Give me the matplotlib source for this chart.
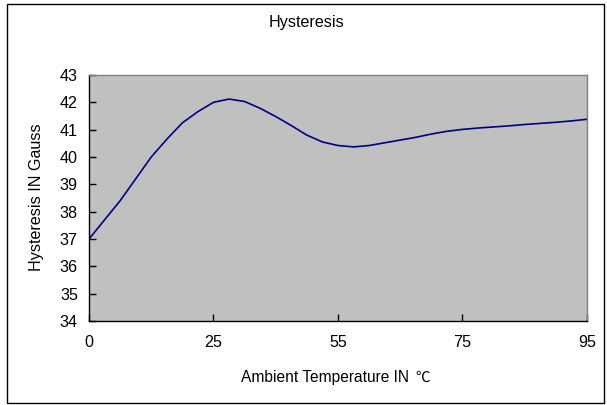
import matplotlib
matplotlib.use("Agg")
import matplotlib.pyplot as plt
import numpy as np
from matplotlib.patches import Rectangle

# Data (category axis; labels shown every 8th sample)
tick_labels = ["0", "25", "55", "75", "95"]
hysteresis = [37.0, 37.7, 38.4, 39.2, 40.0, 40.65, 41.25, 41.66, 42.0,
              42.12, 42.03, 41.78, 41.48, 41.15, 40.8, 40.55, 40.42,
              40.37, 40.42, 40.52, 40.62, 40.72, 40.84, 40.94, 41.01,
              41.06, 41.10, 41.14, 41.19, 41.23, 41.27, 41.32, 41.38]
y_ticks = [34, 35, 36, 37, 38, 39, 40, 41, 42, 43]

plt.rcParams['font.family'] = ['Liberation Sans', 'Noto Sans CJK SC', 'DejaVu Sans']
FS = 11.6

W, H = 607, 405
fig = plt.figure(figsize=(W / 100, H / 100), dpi=100)

# outer border
fig.patches.append(Rectangle((7 / W, 1 - 403 / H), (604 - 7) / W, (403 - 4) / H,
                             transform=fig.transFigure, fill=False,
                             edgecolor='black', linewidth=1.0))

left, right, top, bottom = 89, 587, 75, 321
ax = fig.add_axes([left / W, 1 - bottom / H, (right - left) / W, (bottom - top) / H])
ax.set_facecolor('#C0C0C0')

x = np.arange(len(hysteresis))
ax.plot(x, hysteresis, color='#000080', linewidth=1.2)

ax.set_xlim(0, len(hysteresis) - 1)
ax.set_ylim(34, 43)
step = (len(hysteresis) - 1) / (len(tick_labels) - 1)
ax.set_xticks([i * step for i in range(len(tick_labels))])
ax.set_xticklabels(tick_labels)
ax.set_yticks(y_ticks)
ax.set_yticklabels([str(v) for v in y_ticks])

for s in ['top', 'right']:
    ax.spines[s].set_color('#808080')
    ax.spines[s].set_linewidth(1.0)
for s in ['left', 'bottom']:
    ax.spines[s].set_color('black')
    ax.spines[s].set_linewidth(1.0)

ax.tick_params(axis='both', direction='in', length=5, width=1, colors='black',
               labelsize=FS, pad=8)
ax.tick_params(axis='x', pad=10)

fig.text(307 / W, 1 - 22 / H, "Hysteresis", ha='center', va='center', fontsize=FS)
fig.text(37 / W, 1 - 197 / H, "Hysteresis IN Gauss", ha='center', va='center',
         rotation=90, fontsize=FS)
fig.text(409 / W, 1 - 382 / H, "Ambient Temperature IN", ha='right', va='baseline',
         fontsize=11.2)
fig.text(415 / W, 1 - 382 / H, "℃", ha='left', va='baseline',
         fontsize=10.5, family=['Noto Sans CJK SC', 'DejaVu Sans'], fontweight='light')

fig.savefig("out.png", dpi=100)
